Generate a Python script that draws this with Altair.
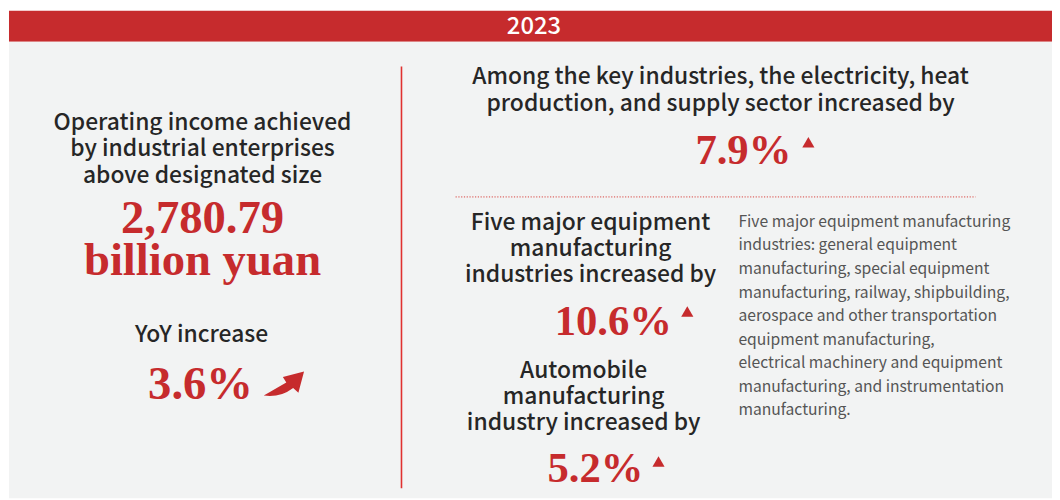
import altair as alt
import pandas as pd

# ---------------- content ----------------
year_label = ["2023"]
income_title = ["Operating income achieved", "by industrial enterprises", "above designated size"]
income_value = ["2,780.79", "billion yuan"]
yoy_title = ["YoY increase"]
yoy_value = ["3.6%"]
power_title = ["Among the key industries, the electricity, heat",
               "production, and supply sector increased by"]
power_value = ["7.9%"]
equip_title = ["Five major equipment", "manufacturing", "industries increased by"]
equip_value = ["10.6%"]
auto_title = ["Automobile", "manufacturing", "industry increased by"]
auto_value = ["5.2%"]
equip_note = [
    "Five major equipment manufacturing",
    "industries: general equipment",
    "manufacturing, special equipment",
    "manufacturing, railway, shipbuilding,",
    "aerospace and other transportation",
    "equipment manufacturing,",
    "electrical machinery and equipment",
    "manufacturing, and instrumentation",
    "manufacturing.",
]

# ---------------- layout (page pixel coordinates) ----------------
RED = "#c62b2d"
DARK = "#262626"
GREY = "#555555"
BG = "#f2f3f3"
SANS = "Noto Sans CJK SC"
SERIF = "Liberation Serif"

W0, W1, H0, H1 = 8, 1060, 8, 500
X = dict(scale=alt.Scale(domain=[W0, W1], nice=False, zero=False), axis=None)
Y = dict(scale=alt.Scale(domain=[H1, H0], nice=False, zero=False), axis=None)


def lines(texts, x, y0, step):
    return pd.DataFrame({"t": texts, "x": [x] * len(texts),
                         "y": [y0 + i * step for i in range(len(texts))]})


def text_layer(df, size, color, font, weight, align="center"):
    return alt.Chart(df).mark_text(
        fontSize=size, color=color, font=font, fontWeight=weight,
        align=align, baseline="alphabetic"
    ).encode(x=alt.X("x:Q", **X), y=alt.Y("y:Q", **Y), text="t:N")


# panels
rects = pd.DataFrame({
    "x": [9, 9], "x2": [1060, 1060], "y": [9, 40], "y2": [40, 500],
    "c": [RED, BG],
})
panel = alt.Chart(rects).mark_rect().encode(
    x=alt.X("x:Q", **X), x2="x2:Q", y=alt.Y("y:Q", **Y), y2="y2:Q",
    color=alt.Color("c:N", scale=None),
)

vline = alt.Chart(pd.DataFrame({"x": [404.5], "y": [65], "y2": [490]})).mark_rule(
    color="#e0312f", strokeWidth=1.6
).encode(x=alt.X("x:Q", **X), y=alt.Y("y:Q", **Y), y2="y2:Q")

hline = alt.Chart(pd.DataFrame({"x": [459], "x2": [983], "y": [196.5]})).mark_rule(
    color="#d9443f", strokeWidth=1, strokeDash=[1.2, 1.6]
).encode(x=alt.X("x:Q", **X), x2="x2:Q", y=alt.Y("y:Q", **Y))

year = text_layer(lines(year_label, 538, 32.5, 0), 24, "white", SANS, 500)

headings = pd.concat([
    lines(income_title, 204, 129, 26.5),
    lines(yoy_title, 203, 342.5, 0),
    lines(power_title, 726, 82.5, 27.5),
    lines(equip_title, 595, 229.5, 26.2),
    lines(auto_title, 588, 378.5, 26.6),
])
head = text_layer(headings, 23, DARK, SANS, 500)

big = pd.concat([
    lines(income_value, 204, 233, 42),
    lines(yoy_value, 202, 400, 0),
])
big_l = text_layer(big, 47, RED, SERIF, "bold")

mid = pd.concat([
    lines(power_value, 749, 163.5, 0),
    lines(equip_value, 618, 336, 0),
    lines(auto_value, 600, 483.5, 0),
])
mid_l = text_layer(mid, 43, RED, SERIF, "bold")

note = text_layer(lines(equip_note, 744, 226.7, 23.75), 15.8, GREY, SANS, 400, align="left")

tri = alt.Chart(pd.DataFrame({"x": [814.5, 692.5, 663.5], "y": [141.5, 312, 463]})).mark_point(
    shape="triangle-up", filled=True, size=150, color=RED, opacity=1, strokeWidth=0
).encode(x=alt.X("x:Q", **X), y=alt.Y("y:Q", **Y))

ARROW = ("M -1 0.6 Q -0.35 0.22 0.12 -0.05 L -0.05 -0.32 L 1 -0.6 "
         "L 0.72 0.46 L 0.46 0.22 Q -0.2 0.72 -1 0.6 Z")
arrow = alt.Chart(pd.DataFrame({"x": [286], "y": [384.5]})).mark_point(
    shape=ARROW, filled=True, size=1650, color=RED, opacity=1, strokeWidth=0
).encode(x=alt.X("x:Q", **X), y=alt.Y("y:Q", **Y))

chart = alt.layer(
    panel, vline, hline, year, head, big_l, mid_l, note, tri, arrow
).properties(
    width=W1 - W0, height=H1 - H0, padding=0, autosize="none", background="white"
).configure_view(stroke=None)

chart.save("out.html", embed_options={"renderer": "svg", "actions": False})
